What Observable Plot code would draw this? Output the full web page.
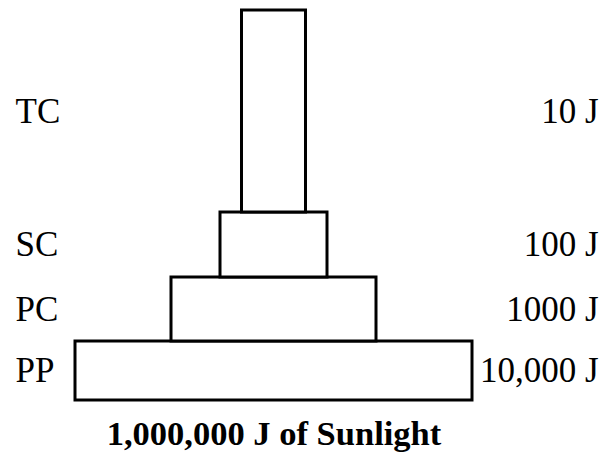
<!DOCTYPE html>
<html>
<head>
<meta charset="utf-8">
<script src="https://cdn.jsdelivr.net/npm/d3@7"></script>
<script src="https://cdn.jsdelivr.net/npm/@observablehq/plot@0.6"></script>
<style>
  html, body { margin: 0; padding: 0; background: #fff; }
</style>
</head>
<body>
<div id="chart"></div>
<script>
// Trophic levels, bottom to top
const levels = ["PP", "PC", "SC", "TC"];
const energyLabels = ["10,000 J", "1000 J", "100 J", "10 J"];
// Relative widths and heights of each block
const blockWidths = [397, 205, 107, 64];
const blockHeights = [59, 64, 65, 202];
const sourceLabel = "1,000,000 J of Sunlight";

let cum = 0;
const data = levels.map((level, i) => {
  const y1 = cum;
  cum += blockHeights[i];
  return {
    level,
    energy: energyLabels[i],
    x1: -blockWidths[i] / 2,
    x2: blockWidths[i] / 2,
    y1,
    y2: cum,
    ym: (y1 + cum) / 2
  };
});

const chart = Plot.plot({
  width: 604,
  height: 454,
  margin: 0,
  x: { domain: [-273.5, 330.5], axis: null },
  y: { domain: [-54, 400], axis: null },
  style: { fontFamily: "'Liberation Serif', 'Times New Roman', serif", background: "#fff" },
  marks: [
    Plot.rect(data, {
      x1: "x1", x2: "x2", y1: "y1", y2: "y2",
      fill: "white", stroke: "black", strokeWidth: 3
    }),
    Plot.text(data, {
      y: "ym", text: "level", frameAnchor: "left", textAnchor: "start",
      dx: 15, fontSize: 35, fill: "black"
    }),
    Plot.text(data, {
      y: "ym", text: "energy", frameAnchor: "right", textAnchor: "end",
      dx: -6, fontSize: 35, fill: "black"
    }),
    Plot.text([sourceLabel], {
      x: 0, y: -33, text: d => d, fontSize: 34.5, fontWeight: "bold", fill: "black"
    })
  ]
});

document.getElementById("chart").appendChild(chart);
</script>
</body>
</html>
